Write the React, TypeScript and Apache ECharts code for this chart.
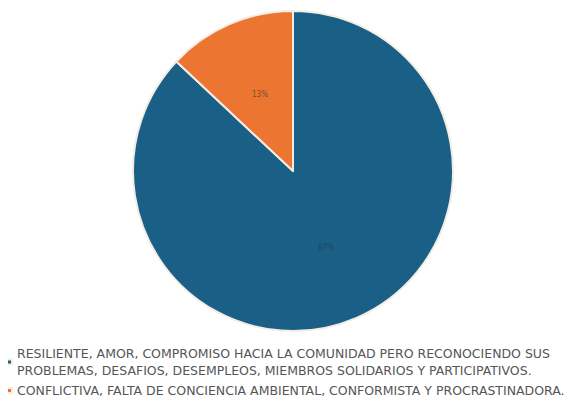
import React, { useEffect, useRef } from "react";
import * as echarts from "echarts";

const categories = [
  "RESILIENTE, AMOR, COMPROMISO HACIA LA COMUNIDAD PERO RECONOCIENDO SUS\nPROBLEMAS, DESAFIOS, DESEMPLEOS, MIEMBROS SOLIDARIOS Y PARTICIPATIVOS.",
  "CONFLICTIVA, FALTA DE CONCIENCIA AMBIENTAL, CONFORMISTA Y PROCRASTINADORA.",
];
const values = [87, 13];
const colors = ["#1a5f86", "#ec7631"];
const labelColors = ["#1c4862", "#7a4a2e"];

export default function App() {
  const ref = useRef<HTMLDivElement>(null);
  useEffect(() => {
    const chart = echarts.init(ref.current!, null, { renderer: "svg" });
    chart.setOption({
      animation: false,
      backgroundColor: "#ffffff",
      legend: {
        orient: "vertical",
        left: -2,
        top: 337,
        padding: 0,
        itemWidth: 5,
        itemHeight: 5,
        itemGap: 3,
        icon: "rect",
        data: categories,
        textStyle: {
          fontFamily: "DejaVu Sans",
          fontSize: 12.5,
          color: "#555555",
          lineHeight: 17,
        },
      },
      series: [
        {
          type: "pie",
          center: [285, 163],
          radius: [0, 160],
          startAngle: 90,
          clockwise: true,
          itemStyle: { borderColor: "#f4ede4", borderWidth: 2 },
          label: {
            position: "inside",
            formatter: "{d}%",
            fontSize: 8,
            fontFamily: "DejaVu Sans Condensed",
          },
          labelLine: { show: false },
          data: categories.map((name, i) => ({
            name,
            value: values[i],
            itemStyle: { color: colors[i] },
            label: { color: labelColors[i] },
          })),
        },
      ],
    });
    return () => chart.dispose();
  }, []);
  return <div ref={ref} style={{ width: 573, height: 403 }} />;
}
